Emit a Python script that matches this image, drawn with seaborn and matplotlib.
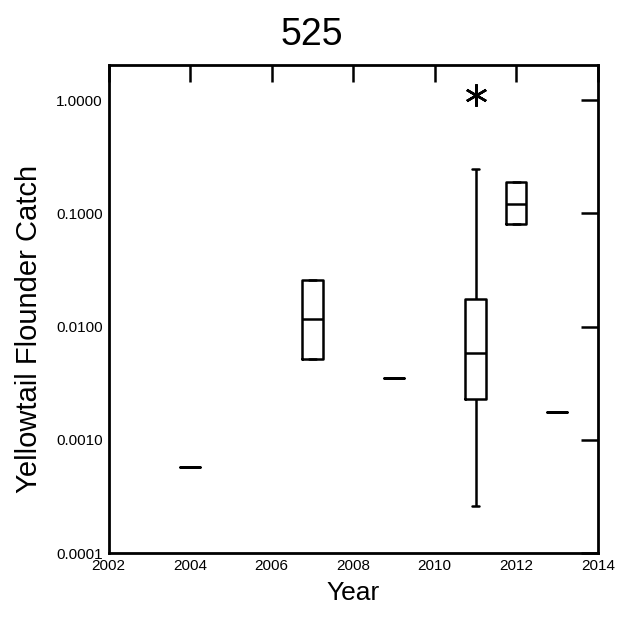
import pandas as pd
import seaborn as sns
import matplotlib.pyplot as plt
from matplotlib.ticker import FixedLocator, FixedFormatter, NullLocator

# observations per year, read off the picture
# (box edges, medians, whisker ends and the outlier)
catch_2004 = [0.00057]
catch_2007 = [0.0052, 0.0052, 0.0116, 0.026, 0.026]
catch_2009 = [0.0035]
catch_2011 = [0.00026, 0.0023, 0.0023, 0.0058, 0.0058, 0.0174, 0.0174, 0.244, 1.10]
catch_2012 = [0.080, 0.080, 0.120, 0.190, 0.190]
catch_2013 = [0.00177]

year_ticks = [2002, 2004, 2006, 2008, 2010, 2012, 2014]
catch_ticks = [0.0001, 0.001, 0.01, 0.1, 1.0]
catch_tick_labels = ["0.0001", "0.0010", "0.0100", "0.1000", "1.0000"]

per_year = {2004: catch_2004, 2007: catch_2007, 2009: catch_2009,
            2011: catch_2011, 2012: catch_2012, 2013: catch_2013}
df = pd.DataFrame([(yr, v) for yr, vals in per_year.items() for v in vals],
                  columns=["year", "catch"])

sns.set_style("white")
plt.rcParams['font.family'] = ['Liberation Sans', 'DejaVu Sans']
plt.rcParams['text.color'] = 'black'
plt.rcParams['axes.labelcolor'] = 'black'

fig, ax = plt.subplots(figsize=(6.36, 6.22), dpi=100)
fig.subplots_adjust(left=0.1706, right=0.940, top=0.8955, bottom=0.1109)

sns.boxplot(data=df, x="year", y="catch", native_scale=True, log_scale=(False, True),
            width=0.5, fill=False, color="black", linewidth=1.8, whis=1.5,
            capwidths=0.18,
            flierprops={"marker": (6, 2, 0), "markersize": 16, "markeredgewidth": 1.8,
                        "markeredgecolor": "black"},
            ax=ax)

ax.set_xlim(2002, 2014)
ax.set_ylim(1e-4, 2.04)
ax.xaxis.set_major_locator(FixedLocator(year_ticks))
ax.xaxis.set_major_formatter(FixedFormatter([str(y) for y in year_ticks]))
ax.yaxis.set_major_locator(FixedLocator(catch_ticks))
ax.yaxis.set_major_formatter(FixedFormatter(catch_tick_labels))
ax.yaxis.set_minor_locator(NullLocator())
ax.xaxis.set_minor_locator(NullLocator())

ax.tick_params(which="major", direction="in", top=True, right=True,
               length=12, width=1.8, colors="black", labelsize=11, pad=4)
for sp in ax.spines.values():
    sp.set_visible(True)
    sp.set_linewidth(2.0)
    sp.set_color("black")

ax.set_xlabel("Year", fontsize=19, labelpad=6)
ax.set_ylabel("Yellowtail Flounder Catch", fontsize=21)
ax.yaxis.set_label_coords(-0.133, 0.46)
fig.text(0.49, 1 - 35 / 622, "525", ha="center", va="center", fontsize=27)

fig.savefig("out.png", dpi=100)
